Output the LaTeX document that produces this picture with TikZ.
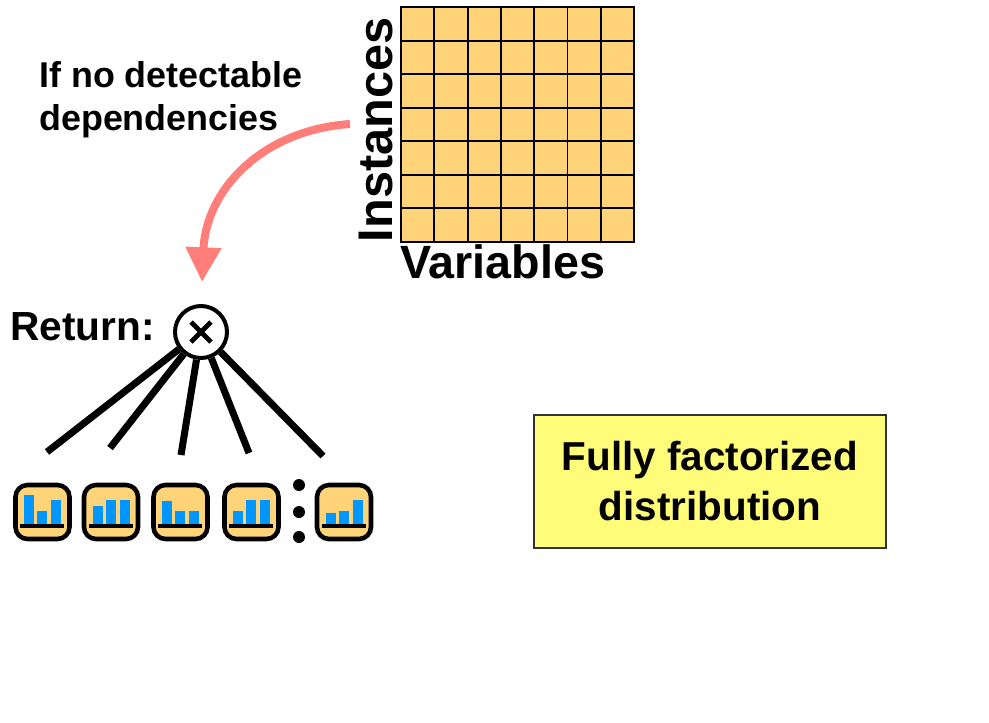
\documentclass[tikz,border=0pt]{standalone}
\usepackage{fontspec}
\setmainfont{Liberation Sans}
\usetikzlibrary{arrows.meta}
\definecolor{cellorange}{RGB}{255,212,121}
\definecolor{barblue}{RGB}{0,150,255}
\definecolor{arrowred}{RGB}{255,126,121}
\definecolor{boxyellow}{RGB}{255,252,121}

\begin{document}
\begin{tikzpicture}[x=0.75pt, y=-0.75pt, font=\bfseries]
    \tikzstyle{icon}=[draw, line width=3.4pt, fill=cellorange, rounded corners=9pt, minimum size=40.5pt, inner sep=0pt]
    \tikzstyle{bar}=[fill=barblue]
    \tikzstyle{spoke}=[line width=5.25pt]
    \tikzstyle{dot}=[circle, fill, minimum size=9pt, inner sep=0pt]
    \tikzstyle{cell}=[line width=1.4pt]

    \useasboundingbox (0,0) rectangle (989,722);

    % data matrix
    \node (data) at (517.5,124.5) [draw, cell, fill=cellorange, minimum width=174.75pt, minimum height=176.25pt, inner sep=0pt] {};
    \foreach \i in {1,...,6} {
        \draw [cell] (401+\i*33.29,7) -- (401+\i*33.29,242);
        \draw [cell] (401,7+\i*33.57) -- (634,7+\i*33.57);
    }
    \node (inst) at (376,130) [rotate=90, inner sep=0pt, font=\fontsize{36.5}{40}\selectfont\bfseries] {Instances};
    \node (vars) at (400,278) [anchor=base west, inner sep=0pt, font=\fontsize{35}{40}\selectfont\bfseries] {Variables};

    \node (cond) at (39,130) [anchor=base west, align=left, inner sep=0pt, font=\fontsize{26.9}{32}\selectfont\bfseries] {If no detectable\\dependencies};

    % arrow
    \coordinate (from) at (350,124);
    \coordinate (to) at (202,282);
    \draw [arrowred, line width=6pt, -{Triangle[width=25.5pt, length=26pt]}] (from) .. controls (262,130) and (206,190) .. (to);

    % product of the leaves
    \node (ret) at (10,340) [anchor=base west, inner sep=0pt, font=\fontsize{30.5}{36}\selectfont\bfseries] {Return:};
    \node (mul) at (201,332) [circle, draw, line width=3pt, minimum size=39pt, inner sep=0pt] {};
    \draw [line width=3.6pt] (mul.center) ++(-10,-10) -- ++(20,20);
    \draw [line width=3.6pt] (mul.center) ++(-10,10) -- ++(20,-20);

    \foreach \n/\x/\y in {1/47/452, 2/110/448, 3/181/455, 4/249/453, 5/323/456}
        \coordinate (leaf\n) at (\x,\y);
    \foreach \n in {1,...,5}
        \draw [spoke] (mul) -- (leaf\n);

    % leaf histograms
    \foreach \n/\x/\a/\b/\c in {1/42.5/30/14/25, 2/111/19/25/25, 3/180.5/23.5/14/14, 4/251.5/14/25/25, 5/344/12/14/25} {
        \node (icon\n) at (\x,512) [icon] {};
        \fill [bar] (\x-18.5,524.5) rectangle ++(10,-\a);
        \fill [bar] (\x-5.5,524.5) rectangle ++(10,-\b);
        \fill [bar] (\x+8.5,524.5) rectangle ++(10,-\c);
        \draw [line width=2.5pt] (\x-22.5,526) -- (\x+21.5,526);
    }
    \node (dot1) at (299,485) [dot] {};
    \node (dot2) at (299,512) [dot] {};
    \node (dot3) at (299,537) [dot] {};

    % summary
    \node (summary) at (710,481.5) [draw=black!80, line width=1.1pt, fill=boxyellow, minimum width=264pt, minimum height=100pt, align=center, font=\fontsize{30.3}{37.5}\selectfont\bfseries] {Fully factorized\\distribution};

\end{tikzpicture}
\end{document}
